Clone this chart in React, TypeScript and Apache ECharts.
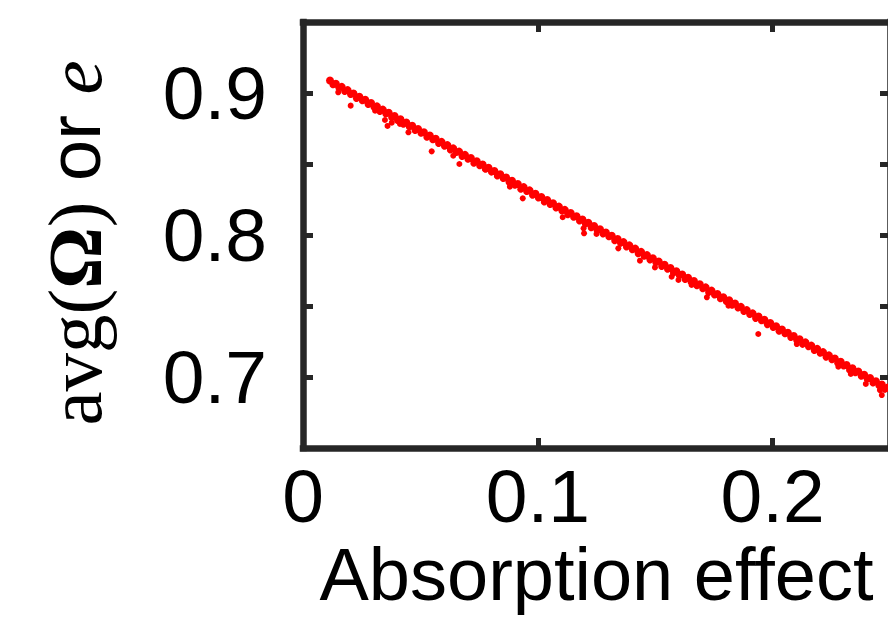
import React, { useEffect, useRef } from "react";
import * as echarts from "echarts";

// Main band of points (upper row)
const bandX = [
  0.0115, 0.014, 0.0165, 0.019, 0.0215, 0.024, 0.0265, 0.029, 0.0315, 0.034,
  0.0365, 0.039, 0.0415, 0.044, 0.0465, 0.049, 0.0515, 0.054, 0.0565, 0.059,
  0.0615, 0.064, 0.0665, 0.069, 0.0715, 0.074, 0.0765, 0.079, 0.0815, 0.084,
  0.0865, 0.089, 0.0915, 0.094, 0.0965, 0.099, 0.1015, 0.104, 0.1065, 0.109,
  0.1115, 0.114, 0.1165, 0.119, 0.1215, 0.124, 0.1265, 0.129, 0.1315, 0.134,
  0.1365, 0.139, 0.1415, 0.144, 0.1465, 0.149, 0.1515, 0.154, 0.1565, 0.159,
  0.1615, 0.164, 0.1665, 0.169, 0.1715, 0.174, 0.1765, 0.179, 0.1815, 0.184,
  0.1865, 0.189, 0.1915, 0.194, 0.1965, 0.199, 0.2015, 0.204, 0.2065, 0.209,
  0.2115, 0.214, 0.2165, 0.219, 0.2215, 0.224, 0.2265, 0.229, 0.2315, 0.234,
  0.2365, 0.239, 0.2415, 0.244, 0.2465, 0.249, 0.2505,
];
const bandY = [
  0.9088, 0.9065, 0.9043, 0.902, 0.8997, 0.8974, 0.8952, 0.8929, 0.8906, 0.8883,
  0.8861, 0.8838, 0.8815, 0.8792, 0.8769, 0.8747, 0.8724, 0.8701, 0.8678, 0.8656,
  0.8633, 0.861, 0.8587, 0.8564, 0.8542, 0.8519, 0.8496, 0.8473, 0.8451, 0.8428,
  0.8405, 0.8382, 0.8359, 0.8337, 0.8314, 0.8291, 0.8268, 0.8246, 0.8223, 0.82,
  0.8177, 0.8155, 0.8132, 0.8109, 0.8086, 0.8063, 0.8041, 0.8018, 0.7995, 0.7972,
  0.795, 0.7927, 0.7904, 0.7881, 0.7858, 0.7836, 0.7813, 0.779, 0.7767, 0.7745,
  0.7722, 0.7699, 0.7676, 0.7653, 0.7631, 0.7608, 0.7585, 0.7562, 0.754, 0.7517,
  0.7494, 0.7471, 0.7448, 0.7426, 0.7403, 0.738, 0.7357, 0.7335, 0.7312, 0.7289,
  0.7266, 0.7244, 0.7221, 0.7198, 0.7175, 0.7152, 0.713, 0.7107, 0.7084, 0.7061,
  0.7039, 0.7016, 0.6993, 0.697, 0.6947, 0.6925, 0.6911,
];

// Lower row of the band
const lowX = [
  0.01275, 0.01525, 0.01775, 0.02025, 0.02275, 0.02525, 0.02775, 0.03025, 0.03275, 0.03525,
  0.03775, 0.04025, 0.04275, 0.04525, 0.04775, 0.05025, 0.05275, 0.05525, 0.05775, 0.06025,
  0.06275, 0.06525, 0.06775, 0.07025, 0.07275, 0.07525, 0.07775, 0.08025, 0.08275, 0.08525,
  0.08775, 0.09025, 0.09275, 0.09525, 0.09775, 0.10025, 0.10275, 0.10525, 0.10775, 0.11025,
  0.11275, 0.11525, 0.11775, 0.12025, 0.12275, 0.12525, 0.12775, 0.13025, 0.13275, 0.13525,
  0.13775, 0.14025, 0.14275, 0.14525, 0.14775, 0.15025, 0.15275, 0.15525, 0.15775, 0.16025,
  0.16275, 0.16525, 0.16775, 0.17025, 0.17275, 0.17525, 0.17775, 0.18025, 0.18275, 0.18525,
  0.18775, 0.19025, 0.19275, 0.19525, 0.19775, 0.20025, 0.20275, 0.20525, 0.20775, 0.21025,
  0.21275, 0.21525, 0.21775, 0.22025, 0.22275, 0.22525, 0.22775, 0.23025, 0.23275, 0.23525,
  0.23775, 0.24025, 0.24275, 0.24525, 0.24775, 0.25025,
];
const lowY = [
  0.9058, 0.9037, 0.901, 0.899, 0.8962, 0.8945, 0.8919, 0.8899, 0.887, 0.8853,
  0.8827, 0.8807, 0.878, 0.8762, 0.8736, 0.8716, 0.8688, 0.8671, 0.8644, 0.8625,
  0.8598, 0.8581, 0.8553, 0.8534, 0.8506, 0.8488, 0.8463, 0.8443, 0.8416, 0.8398,
  0.8372, 0.8351, 0.8323, 0.8307, 0.828, 0.8261, 0.8233, 0.8215, 0.819, 0.817,
  0.8142, 0.8125, 0.8098, 0.8078, 0.8051, 0.8033, 0.8008, 0.7988, 0.7959, 0.7942,
  0.7916, 0.7896, 0.7869, 0.7851, 0.7825, 0.7806, 0.7778, 0.7759, 0.7733, 0.7715,
  0.7687, 0.7669, 0.7643, 0.7622, 0.7595, 0.7578, 0.7551, 0.7532, 0.7505, 0.7486,
  0.7461, 0.7441, 0.7413, 0.7396, 0.7369, 0.7349, 0.7322, 0.7305, 0.7279, 0.7259,
  0.723, 0.7214, 0.7187, 0.7167, 0.714, 0.7122, 0.7097, 0.7077, 0.7049, 0.703,
  0.7005, 0.6986, 0.6958, 0.694, 0.6914, 0.6895,
];

// Scattered points below the band
const outX = [
  0.015, 0.0203, 0.0307, 0.0349, 0.036, 0.0378, 0.0413, 0.0449, 0.0548, 0.064,
  0.0666, 0.0775, 0.0881, 0.0936, 0.1106, 0.1197, 0.1195, 0.125, 0.1343, 0.1435,
  0.1499, 0.157, 0.1599, 0.1655, 0.172, 0.1812, 0.1939, 0.2103, 0.228, 0.2333,
  0.2397, 0.2457, 0.2465, 0.2479,
];
const outY = [
  0.9005, 0.8911, 0.8875, 0.881, 0.8768, 0.8791, 0.8782, 0.8723, 0.8589, 0.8558,
  0.85, 0.8463, 0.834, 0.8258, 0.8125, 0.8012, 0.8047, 0.8007, 0.7906, 0.7819,
  0.7772, 0.7706, 0.7683, 0.7648, 0.7561, 0.7502, 0.7303, 0.7232, 0.7073, 0.7021,
  0.6951, 0.6908, 0.6873, 0.6913,
];

const xTicks = [0, 0.1, 0.2];
const yTicks = [0.7, 0.8, 0.9];

const AXIS = "#262626";
const RED = "#ff0000";
const SANS = "Liberation Sans, Arial, sans-serif";
const SERIF = "Liberation Serif, Times New Roman, serif";

const isTick = (v: number, ticks: number[]) => ticks.some((t) => Math.abs(t - v) < 1e-9);

export default function App() {
  const ref = useRef<HTMLDivElement>(null);
  useEffect(() => {
    if (!ref.current) return;
    const chart = echarts.init(ref.current, null, { renderer: "svg" });
    const zip = (xs: number[], ys: number[]) => xs.map((x, i) => [x, ys[i]]);
    const axisLine = { show: true, onZero: false, lineStyle: { color: AXIS, width: 6.5, cap: "square" } };
    const axisTick = { show: true, inside: true, length: 10, lineStyle: { color: AXIS, width: 5 } };
    const dot = { color: RED, opacity: 1 };
    chart.setOption({
      animation: false,
      backgroundColor: "#ffffff",
      grid: { left: 303, top: 22, width: 587, height: 426, containLabel: false },
      xAxis: [
        {
          type: "value",
          min: 0,
          max: 0.25,
          interval: 0.1,
          position: "bottom",
          axisLine,
          axisTick,
          splitLine: { show: false },
          axisLabel: {
            fontSize: 75,
            fontFamily: SANS,
            color: "#000",
            margin: 10,
            showMaxLabel: false,
            formatter: (v: number) => (isTick(v, xTicks) ? String(v) : ""),
          },
          name: "Absorption effect",
          nameLocation: "middle",
          nameGap: 80,
          nameTextStyle: { fontSize: 74, fontFamily: SANS, color: "#000" },
        },
        {
          type: "value",
          min: 0,
          max: 0.25,
          interval: 0.1,
          position: "top",
          axisLine,
          axisTick,
          splitLine: { show: false },
          axisLabel: { show: false },
        },
      ],
      yAxis: [
        {
          type: "value",
          min: 0.65,
          max: 0.95,
          interval: 0.05,
          position: "left",
          axisLine,
          axisTick,
          splitLine: { show: false },
          axisLabel: {
            fontSize: 75,
            fontFamily: SANS,
            color: "#000",
            margin: 36,
            padding: [8, 0, 0, 0],
            formatter: (v: number) => (isTick(v, yTicks) ? v.toFixed(1) : ""),
          },
          name: "{s|avg(}{b|Ω}{s|)}{n| or }{i|e}",
          nameLocation: "middle",
          nameRotate: 90,
          nameGap: 190,
          nameTextStyle: {
            color: "#000",
            padding: [0, 16, 0, 0],
            rich: {
              s: { fontFamily: SERIF, fontSize: 77, color: "#000" },
              b: { fontFamily: SERIF, fontSize: 77, fontWeight: "bold", color: "#000" },
              n: { fontFamily: SANS, fontSize: 74, color: "#000" },
              i: { fontFamily: SERIF, fontSize: 77, fontStyle: "italic", color: "#000" },
            },
          },
        },
        {
          type: "value",
          min: 0.65,
          max: 0.95,
          interval: 0.05,
          position: "right",
          axisLine,
          axisTick,
          splitLine: { show: false },
          axisLabel: { show: false },
        },
      ],
      series: [
        {
          type: "scatter",
          name: "band",
          data: zip(bandX, bandY),
          symbolSize: 8,
          itemStyle: dot,
        },
        {
          type: "scatter",
          name: "band-lower",
          data: zip(lowX, lowY),
          symbolSize: 7,
          itemStyle: dot,
        },
        {
          type: "scatter",
          name: "scattered",
          data: zip(outX, outY),
          symbolSize: 6,
          itemStyle: dot,
        },
      ],
    });
    return () => chart.dispose();
  }, []);
  return (
    <div
      style={{
        position: "absolute",
        left: 0,
        top: 0,
        width: 888,
        height: 620,
        overflow: "hidden",
        background: "#fff",
      }}
    >
      <div ref={ref} style={{ width: 910, height: 620 }} />
    </div>
  );
}
